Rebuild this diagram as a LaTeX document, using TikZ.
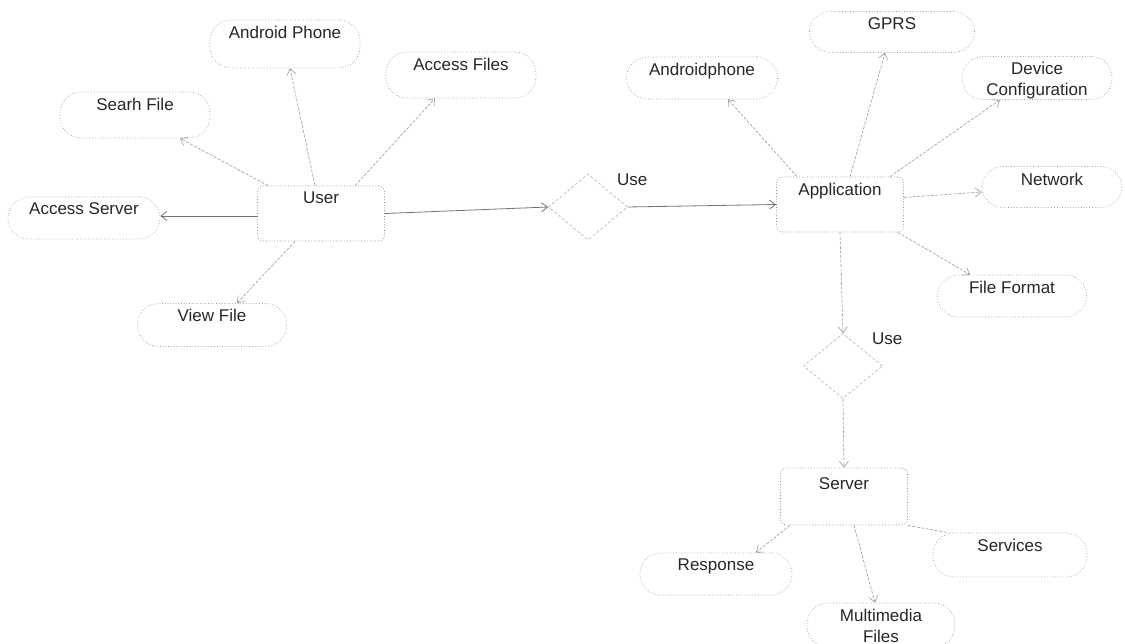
\documentclass[tikz,border=0pt]{standalone}
\usepackage{fontspec}
\setmainfont{Liberation Sans}
\usetikzlibrary{shapes.geometric,arrows.meta}
\begin{document}
\begin{tikzpicture}[x=1pt,y=-1pt,
  font=\fontsize{17}{20}\selectfont,
  txt/.style={anchor=north,yshift=-3pt,inner sep=3pt,text=black!85,align=center},
  capsule/.style={draw=black!40,dotted,line width=0.7pt,rounded corners=21pt,
    minimum width=#1,minimum height=44pt,inner sep=0pt},
  capsule/.default=150pt,
  entity/.style={draw=black!45,dotted,line width=0.8pt,rounded corners=6pt,
    minimum width=127pt,minimum height=55pt,inner sep=0pt},
  relation/.style={diamond,draw=black!30,dashed,dash pattern=on 3pt off 2pt,line width=0.6pt,
    minimum width=79pt,minimum height=66pt,inner sep=0pt},
  link/.style={draw=black!40,line width=0.6pt,dash pattern=on 3pt off 1.5pt,
    -{Straight Barb[length=6pt,width=9pt]}},
  solidlink/.style={draw=black!55,line width=0.8pt,
    -{Straight Barb[length=6pt,width=9pt]}},
  plainlink/.style={draw=black!40,line width=0.6pt,dash pattern=on 3pt off 1.5pt}
]
\useasboundingbox (0,0) rectangle (1125,644);

% user side
\node[entity,label={[txt]north:User}] (user) at (321,213.5) {};
\node[capsule,minimum height=48pt,label={[txt]north:Android Phone}] (ap) at (285,44) {};
\node[capsule,minimum height=46pt,label={[txt]north:Searh File}] (sf) at (135,115) {};
\node[capsule,minimum height=46pt,label={[txt]north:Access Files}] (af) at (461,75) {};
\node[capsule=152pt,minimum height=42pt,label={[txt]north:Access Server}] (as) at (84,218) {};
\node[capsule=149pt,minimum height=43pt,label={[txt]north:View File}] (vf) at (212,325) {};

% first relation
\node[relation] (d1) at (588,207) {};
\node[txt,anchor=north west,yshift=0pt] (u1) at (614,168) {Use};

% application side
\node[entity,label={[txt]north:Application}] (app) at (840,204.5) {};
\node[capsule=165pt,minimum height=41pt,label={[txt]north:GPRS}] (gprs) at (892,32) {};
\node[capsule=151pt,minimum height=42pt,label={[txt]north:Androidphone}] (adp) at (702,78) {};
\node[capsule,minimum height=43pt,label={[txt,font=\fontsize{17}{21}\selectfont]north:Device\\Configuration}] (dc) at (1037,78) {};
\node[capsule=140pt,minimum height=41pt,label={[txt,yshift=-1pt]north:Network}] (net) at (1052,187) {};
\node[capsule=149pt,minimum height=42pt,label={[txt]north:File Format}] (ff) at (1012,296) {};

% second relation
\node[relation,minimum height=65pt] (d2) at (843,366) {};
\node[txt,anchor=north west,yshift=0pt] (u2) at (869,327) {Use};

% server side
\node[entity,minimum height=57pt,label={[txt,yshift=-4pt]north:Server}] (srv) at (844,496.5) {};
\node[capsule=152pt,minimum height=42pt,label={[txt]north:Response}] (resp) at (716,574) {};
\node[capsule=154pt,minimum height=44pt,label={[txt]north:Services}] (svc) at (1010,555) {};
\node[capsule=148pt,minimum height=44pt,label={[txt,font=\fontsize{17}{21}\selectfont]north:Multimedia\\Files}] (mm) at (881,625) {};

% connectors from User
\draw[link] ([xshift=-6pt]user.north) -- ([xshift=5pt]ap.south);
\draw[link] ([xshift=-53pt]user.north) -- ([xshift=45pt]sf.south);
\draw[link] ([xshift=34pt]user.north) -- ([xshift=-26pt]af.south);
\draw[solidlink] ([yshift=-2.5pt]user.west) -- ([yshift=2pt]as.east);
\draw[link] ([xshift=-26pt]user.south) -- ([xshift=25pt]vf.north);
\draw[solidlink] (user.east) -- (d1.west);
\draw[solidlink] (d1.east) -- (app.west);

% connectors from Application
\draw[link] ([xshift=-43pt]app.north) -- ([xshift=26pt]adp.south);
\draw[link] ([xshift=10pt]app.north) -- ([xshift=-7pt]gprs.south);
\draw[link] ([xshift=50pt]app.north) -- ([xshift=-37pt]dc.south);
\draw[link] ([yshift=7pt]app.east) -- ([yshift=-5pt]net.west);
\draw[link] ([xshift=-6pt]app.south east) -- ([xshift=-42pt]ff.north);
\draw[link] (app.south) -- (d2.north);
\draw[link] (d2.south) -- (srv.north);

% connectors from Server
\draw[link] ([xshift=-54pt]srv.south) -- ([xshift=40pt]resp.north);
\draw[link] ([xshift=10pt]srv.south) -- ([xshift=-6pt]mm.north);
\draw[plainlink] (srv.south east) -- ([xshift=-62pt]svc.north);
\end{tikzpicture}
\end{document}
